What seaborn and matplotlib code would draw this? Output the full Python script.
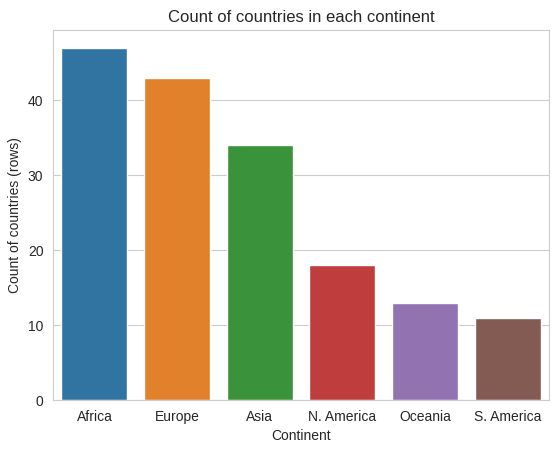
import matplotlib
matplotlib.use("Agg")
import matplotlib.pyplot as plt
import seaborn as sns
import pandas as pd

continents = ["Africa", "Europe", "Asia", "N. America", "Oceania", "S. America"]
counts = [47, 43, 34, 18, 13, 11]

df = pd.DataFrame({"Continent": continents, "count": counts})

sns.set_style("whitegrid")
plt.rcParams["font.family"] = ["Liberation Sans", "DejaVu Sans"]

fig, ax = plt.subplots(figsize=(5.59, 4.49), dpi=100)
fig.subplots_adjust(left=0.095, right=0.982, top=0.933, bottom=0.109)

sns.barplot(data=df, x="Continent", y="count", hue="Continent", palette="tab10", legend=False, ax=ax)
ax.set_title("Count of countries in each continent")
ax.set_xlabel("Continent")
ax.set_ylabel("Count of countries (rows)")

fig.savefig("out.png", dpi=100)
